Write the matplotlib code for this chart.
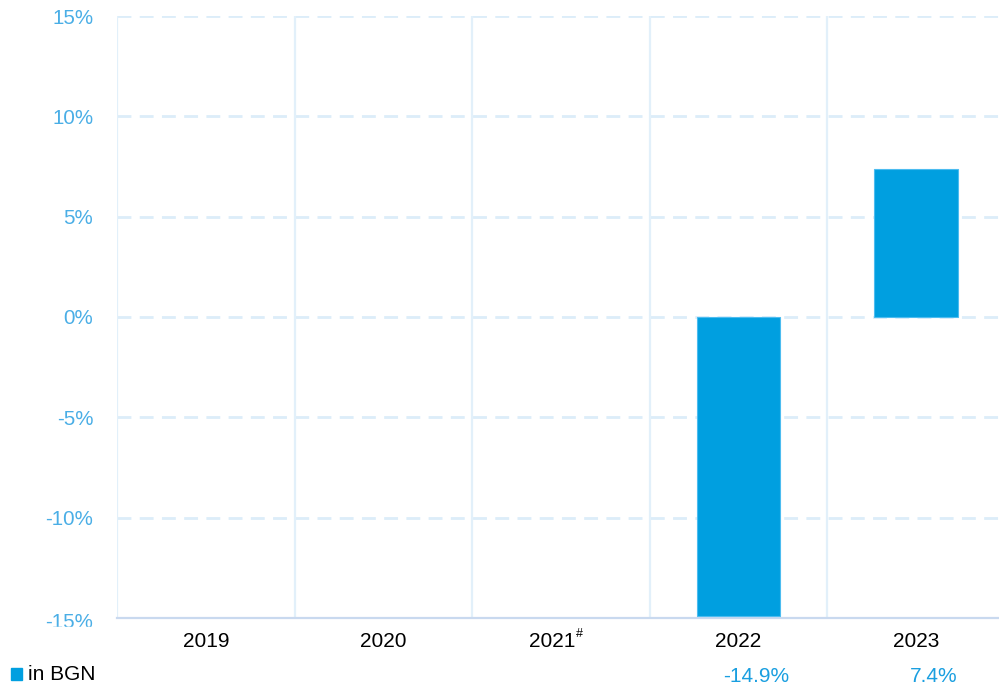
import numpy as np
import matplotlib.pyplot as plt
from matplotlib.patches import Rectangle
from matplotlib.transforms import ScaledTranslation

years = ['2019', '2020', '2021', '2022', '2023']
year_marks = ['', '', '#', '', '']
values = [np.nan, np.nan, np.nan, -14.9, 7.4]
value_labels = ['', '', '', '-14.9%', '7.4%']
yticks = [-15, -10, -5, 0, 5, 10, 15]
series_name = 'in BGN'

bar_col = '#009fe0'
tick_col = '#4aaee6'
val_col = '#1a9fe0'
grid_col = '#dcedf9'

plt.rcParams['font.family'] = ['Liberation Sans', 'DejaVu Sans']

W, H = 999, 684
fig = plt.figure(figsize=(W / 100, H / 100), dpi=100)
ax = fig.add_axes([117 / W, 1 - 618 / H, (1005 - 117) / W, (618 - 16) / H])

x = np.arange(len(years))
ax.bar(x, values, width=0.47, color=bar_col, edgecolor='#4cbcf0', linewidth=0.8, zorder=3)

ax.set_xlim(-0.5, len(years) - 0.5)
ax.set_ylim(-15, 15)

for yv in yticks:
    if yv == -15:
        continue
    ax.axhline(yv, color=grid_col, lw=2, ls=(0, (5, 3)), zorder=1)
for xv in np.arange(-0.5, len(years), 1):
    ax.axvline(xv, color='#e2f0fa', lw=1.6, zorder=1)
ax.axhline(-15, color='#c9d9ef', lw=1.6, zorder=2, clip_on=False)

for s in ax.spines.values():
    s.set_visible(False)
ax.set_xticks([])
ax.set_yticks(yticks)
ax.set_yticklabels([f'{v}%' for v in yticks], color=tick_col, fontsize=14.8)
ax.tick_params(axis='y', length=0, pad=17)
# lowest label sits a bit lower and gets cut off
lbl = ax.get_yticklabels()[0]
lbl.set_transform(lbl.get_transform() + ScaledTranslation(0, -3 / 100, fig.dpi_scale_trans))

# year labels under the axis
for i, (yr, mk) in enumerate(zip(years, year_marks)):
    dx = -6 if mk else 0
    ax.annotate(yr, (i, -15), xytext=(dx, -17), textcoords='offset points',
                ha='center', va='center', fontsize=15, color='black',
                annotation_clip=False)
    if mk:
        ax.annotate(mk, (i, -15), xytext=(dx + 17, -11.5), textcoords='offset points',
                    ha='left', va='center', fontsize=9, color='black',
                    annotation_clip=False)

# value row
for i, lab in enumerate(value_labels):
    if lab:
        ax.annotate(lab, (i + 0.1, -15), xytext=(0, -42), textcoords='offset points',
                    ha='center', va='center', fontsize=15, color=val_col,
                    annotation_clip=False)

# mask that cuts the lowest tick label
fig.patches.append(Rectangle((0, 1 - 660 / H), 110 / W, 33.5 / H,
                             transform=fig.transFigure, color='white', zorder=1))

fig.patches.append(Rectangle((11 / W, 1 - 680 / H), 11 / W, 12 / H,
                             transform=fig.transFigure, color=bar_col, zorder=2))
fig.text(28 / W, 1 - 675 / H, series_name, fontsize=15, color='black', va='center', ha='left', zorder=3)

fig.savefig('out.png', dpi=100)
